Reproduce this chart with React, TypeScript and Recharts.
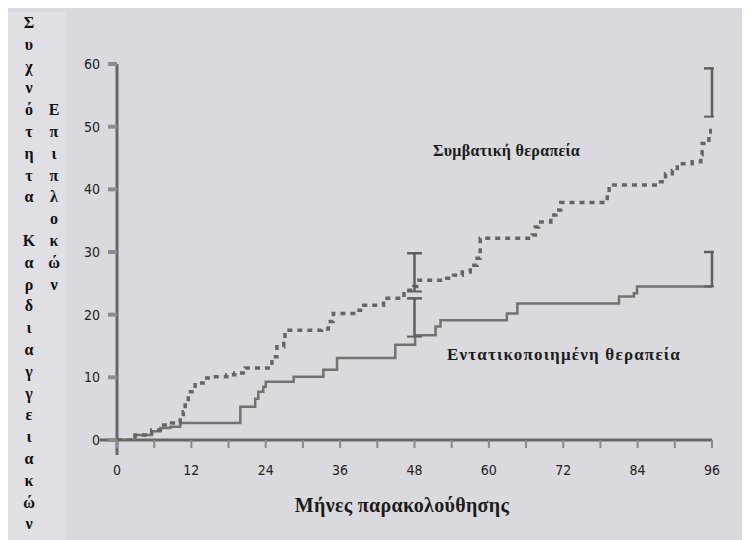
import React from 'react';
import { LineChart, Line, XAxis, YAxis, ReferenceLine } from 'recharts';

// Conventional therapy (dashed curve)
const conventionalMonths = [0, 2.9, 5.6, 7, 8.8, 10.2, 10.7, 11, 11.5, 12.6, 13.9, 15.5, 17.7, 19, 20.7, 25, 25.8, 26.9, 27.1, 33, 34.1, 34.9, 38.5, 39.8, 43, 46.3, 47.9, 48.7, 53.2, 54.3, 55.7, 57, 58.1, 58.6, 67, 67.5, 68, 70, 70.8, 71.6, 79.1, 79.4, 87.7, 88.5, 89.6, 90.4, 92.8, 94.2, 94.4, 95.5, 95.8, 96];
const conventionalRate = [0, 0.8, 1.6, 2.4, 2.7, 3.2, 4.5, 6.1, 7.7, 9.1, 9.9, 10.1, 10.4, 10.7, 11.5, 13.3, 14.9, 15.7, 17.5, 17.7, 18.9, 20.2, 20.7, 21.5, 22.6, 23.9, 24.5, 25.5, 25.8, 26.3, 26.8, 27.9, 29, 32.2, 32.7, 34, 34.8, 35.9, 36.7, 37.9, 39.3, 40.7, 41.2, 42.5, 43, 44.1, 44.4, 45.5, 47.3, 48.4, 50.2, 50.2];

// Intensive therapy (solid curve)
const intensiveMonths = [0, 2.9, 5.6, 7, 8.6, 10.2, 19.9, 22.3, 22.8, 23.6, 24, 28.5, 33.3, 35.5, 44.9, 48.1, 51.4, 52.2, 62.9, 64.6, 81, 83.4, 83.9, 96];
const intensiveRate = [0, 0.8, 1.4, 1.9, 2.1, 2.7, 5.3, 6.6, 7.7, 8.5, 9.3, 10.1, 11.2, 13.1, 15.2, 16.7, 18.1, 19.1, 20.2, 21.8, 22.9, 23.4, 24.5, 24.5];

// confidence brackets
const conventionalBrackets = [
    { month: 48, low: 23.7, high: 29.8 },
    { month: 96, low: 51.6, high: 59.3 },
];
const intensiveBrackets = [
    { month: 48, low: 16.5, high: 22.6 },
    { month: 96, low: 24.5, high: 30 },
];

const monthTicks = [0, 6, 12, 18, 24, 30, 36, 42, 48, 54, 60, 66, 72, 78, 84, 90, 96];
const rateTicks = [0, 10, 20, 30, 40, 50, 60];

const yTitleMain = 'Συχνότητα Καρδιαγγειακών';
const yTitleSub = 'Επιπλοκών';
const xTitle = 'Μήνες παρακολούθησης';
const conventionalLabel = 'Συμβατική θεραπεία';
const intensiveLabel = 'Εντατικοποιημένη θεραπεία';

const conventionalData = conventionalMonths.map((m, i) => ({ month: m, rate: conventionalRate[i] }));
const intensiveData = intensiveMonths.map((m, i) => ({ month: m, rate: intensiveRate[i] }));

const serif = '"Liberation Serif", "DejaVu Serif", serif';
const narrow = '"Liberation Sans Narrow", "DejaVu Sans Condensed", sans-serif';
const ROW = 21.8;

const VerticalWord = ({ text, left, top }: { text: string; left: number; top: number }) => (
    <div style={{ position: 'absolute', left, top, width: 22, fontFamily: serif, fontWeight: 700, fontSize: 16, color: '#111', textAlign: 'center' }}>
        {Array.from(text).map((ch, i) => (
            <div key={i} style={{ height: ROW, lineHeight: `${ROW}px` }}>{ch === ' ' ? '\u00a0' : ch}</div>
        ))}
    </div>
);

const renderBrackets = (list: { month: number; low: number; high: number }[], prefix: string) =>
    list.flatMap((b) => {
        const capL = b.month === 96 ? b.month - 1.3 : b.month - 1.2;
        const capR = b.month === 96 ? b.month + 0.3 : b.month + 1.2;
        return [
            <ReferenceLine key={`${prefix}v${b.month}`} segment={[{ x: b.month, y: b.low }, { x: b.month, y: b.high }]} stroke="#5e5e5e" strokeWidth={2.5} ifOverflow="visible" />,
            <ReferenceLine key={`${prefix}t${b.month}`} segment={[{ x: capL, y: b.high }, { x: capR, y: b.high }]} stroke="#5e5e5e" strokeWidth={2.5} ifOverflow="visible" />,
            <ReferenceLine key={`${prefix}b${b.month}`} segment={[{ x: capL, y: b.low }, { x: capR, y: b.low }]} stroke="#5e5e5e" strokeWidth={2} ifOverflow="visible" />,
        ];
    });

const App: React.FC = () => {
    return (
        <div style={{ position: 'relative', width: 742, height: 532, background: '#dad9dd', overflow: 'hidden' }}>
            <div style={{ position: 'absolute', left: 0, top: 4, width: 58, height: 528, background: '#e0dfe3' }} />
            <LineChart width={742} height={532} margin={{ top: 56, right: 38, bottom: 60, left: 49 }} style={{ position: 'absolute', left: 0, top: 0 }}>
                <XAxis
                    type="number"
                    dataKey="month"
                    domain={[0, 96]}
                    ticks={monthTicks}
                    tickFormatter={(v: number) => (v % 12 === 0 ? String(v) : '')}
                    height={40}
                    axisLine={false}
                    tickSize={8}
                    tickMargin={17}
                    tickLine={{ stroke: '#8a8a8a', strokeWidth: 2 }}
                    tick={{ fill: '#222', fontSize: 14, fontFamily: narrow }}
                    allowDataOverflow
                />
                <YAxis
                    type="number"
                    dataKey="rate"
                    domain={[0, 60]}
                    ticks={rateTicks}
                    width={60}
                    axisLine={false}
                    tickSize={9}
                    tickMargin={8}
                    tickLine={{ stroke: '#8c8c8c', strokeWidth: 4 }}
                    tick={{ fill: '#222', fontSize: 14, fontFamily: narrow }}
                    allowDataOverflow
                />
                <ReferenceLine segment={[{ x: -2.8, y: 0 }, { x: 96, y: 0 }]} stroke="#666" strokeWidth={3} ifOverflow="visible" />
                <ReferenceLine segment={[{ x: 0, y: -2.4 }, { x: 0, y: 60 }]} stroke="#666" strokeWidth={3} ifOverflow="visible" />
                <Line data={intensiveData} dataKey="rate" type="stepAfter" stroke="#727272" strokeWidth={2.5} dot={false} isAnimationActive={false} />
                <Line data={conventionalData} dataKey="rate" type="stepAfter" stroke="#656565" strokeWidth={3.5} strokeDasharray="5 5" dot={false} isAnimationActive={false} />
                {renderBrackets(conventionalBrackets, 'c')}
                {renderBrackets(intensiveBrackets, 'i')}
            </LineChart>
            <VerticalWord text={yTitleMain} left={10} top={4} />
            <VerticalWord text={yTitleSub} left={35} top={4 + 4 * ROW} />
            <div style={{ position: 'absolute', left: 425, top: 133, lineHeight: '20px', fontFamily: serif, fontWeight: 'bold', fontSize: 16, letterSpacing: 0.3, color: '#1c1c1c', whiteSpace: 'nowrap' }}>
                {conventionalLabel}
            </div>
            <div style={{ position: 'absolute', left: 439, top: 337, lineHeight: '20px', fontFamily: serif, fontWeight: 'bold', fontSize: 17, letterSpacing: 1.2, color: '#1c1c1c', whiteSpace: 'nowrap' }}>
                {intensiveLabel}
            </div>
            <div style={{ position: 'absolute', left: 394, top: 485, transform: 'translateX(-50%)', lineHeight: '24px', fontFamily: serif, fontWeight: 'bold', fontSize: 20, letterSpacing: 0.3, color: '#1c1c1c', whiteSpace: 'nowrap' }}>
                {xTitle}
            </div>
        </div>
    );
};

export default App;
